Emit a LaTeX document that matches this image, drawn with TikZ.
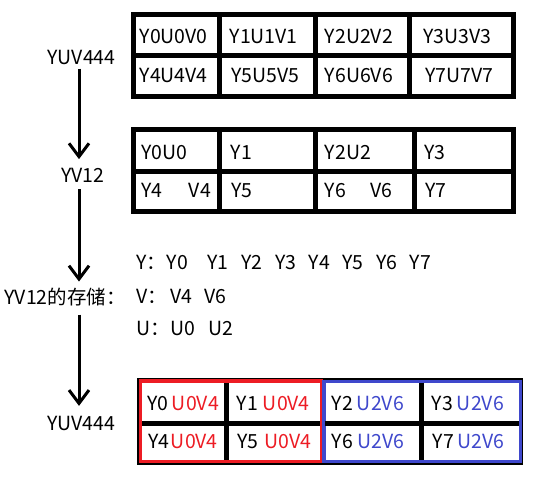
\documentclass[tikz,border=0pt]{standalone}
\usepackage{fontspec}
\setmainfont{Noto Sans CJK SC}
\usetikzlibrary{arrows.meta, positioning, calc}
\definecolor{yuvred}{HTML}{ED1C24}
\definecolor{yuvblue}{HTML}{3F48CC}

\begin{document}
\begin{tikzpicture}[
    x=0.75pt, y=-0.75pt,
    lbl/.style={font=\fontsize{14.6}{16}\selectfont, inner sep=0pt, anchor=base},
    cell/.style={font=\fontsize{14.6}{16}\selectfont, inner sep=0pt, anchor=base west},
    grid/.style={line width=3.75pt},
    flow/.style={line width=2.25pt, -{Straight Barb[length=10pt, width=15pt]}},
    redbox/.style={draw=yuvred, line width=2.6pt, fill=white},
    bluebox/.style={draw=yuvblue, line width=2.6pt, fill=white}
]
\useasboundingbox (0,0) rectangle (533,478);
\coordinate (spine) at (79,0);

% format labels on the left
\node[lbl] (src) at (81.6,65) {YUV444};
\node[lbl] (yv) at (83,182.5) {YV12};
\node[lbl] (store) at (65,305) {YV12的存储：};
\node[lbl] (dst) at (81.5,430.7) {YUV444};

\draw[flow, shorten <=2.25pt, shorten >=6.6pt] (src.south -| spine) -- (yv.north -| spine);
\draw[flow, shorten <=4.9pt, shorten >=5.1pt] (yv.south -| spine) -- (store.north -| spine);
\draw[flow, shorten <=5.9pt, shorten >=7.7pt] (store.south -| spine) -- (dst.north -| spine);

% YUV444 table
\draw[grid] (133.5,14.5) rectangle (513.5,96.5);
\draw[grid] (133.5,55.8) -- (513.5,55.8);
\foreach \x in {219.5,315.6,409.6} \draw[grid] (\x,14.5) -- (\x,96.5);
\foreach \t/\x/\y [count=\i] in {Y0U0V0/139.4/43.3, Y1U1V1/229.4/43.3, Y2U2V2/324.6/43.3, Y3U3V3/423/43.3,
    Y4U4V4/139.4/82.7, Y5U5V5/231/82.7, Y6U6V6/324.6/82.7, Y7U7V7/425/82.7}
    \node[cell] (full\i) at (\x,\y) {\t};

% YV12 table
\draw[grid] (133.5,129.8) rectangle (513.5,211.8);
\draw[grid] (133.5,171.7) -- (513.5,171.7);
\foreach \x in {219,315.6,414.2} \draw[grid] (\x,129.8) -- (\x,211.8);
\foreach \t/\x/\y [count=\i] in {Y0U0/141/159.3, Y1/230.5/159.3, Y2U2/324.6/159.3, Y3/424/159.3,
    Y4/141/197.3, V4/188.6/197.3, Y5/231/197.3, Y6/324.6/197.3, V6/370.5/197.3, Y7/425/197.3}
    \node[cell] (sub\i) at (\x,\y) {\t};

% storage order
\node[cell] (ystore) at (136,270) {\makebox[23pt][l]{Y：}\makebox[30.5pt][l]{Y0}\makebox[25.3pt][l]{Y1}\makebox[25.3pt][l]{Y2}\makebox[25.3pt][l]{Y3}\makebox[25.3pt][l]{Y4}\makebox[25.3pt][l]{Y5}\makebox[25.3pt][l]{Y6}Y7};
\node[cell] (vstore) at (136,303.3) {\makebox[25.5pt][l]{V：}\makebox[25.5pt][l]{V4}V6};
\node[cell] (ustore) at (136,335) {\makebox[25.5pt][l]{U：}\makebox[28.5pt][l]{U0}U2};

% rebuilt YUV444 table
\fill (137.3,378) rectangle (523.3,465);
\draw[redbox] (140.5,381) rectangle (321.3,461.5);
\draw[bluebox] (324,381.5) rectangle (520.3,461.5);
\draw[grid] (142,423) -- (319.8,423);
\draw[grid] (325.3,423) -- (519,423);
\foreach \x in {226.5,421} \draw[grid] (\x,382.5) -- (\x,460);
\foreach \t/\w/\c/\uv/\x/\y [count=\i] in {Y0/18.3/yuvred/U0V4/147.3/410, Y1/19.5/yuvred/U0V4/236.7/410,
    Y2/18.75/yuvblue/U2V6/331.7/410, Y3/18.75/yuvblue/U2V6/431.7/410,
    Y4/16.8/yuvred/U0V4/148.3/448, Y5/20/yuvred/U0V4/237.3/448,
    Y6/19.2/yuvblue/U2V6/331.7/448, Y7/18.5/yuvblue/U2V6/432.7/448}
    \node[cell] (back\i) at (\x,\y) {\makebox[\w pt][l]{\t}\textcolor{\c}{\uv}};
\end{tikzpicture}
\end{document}
